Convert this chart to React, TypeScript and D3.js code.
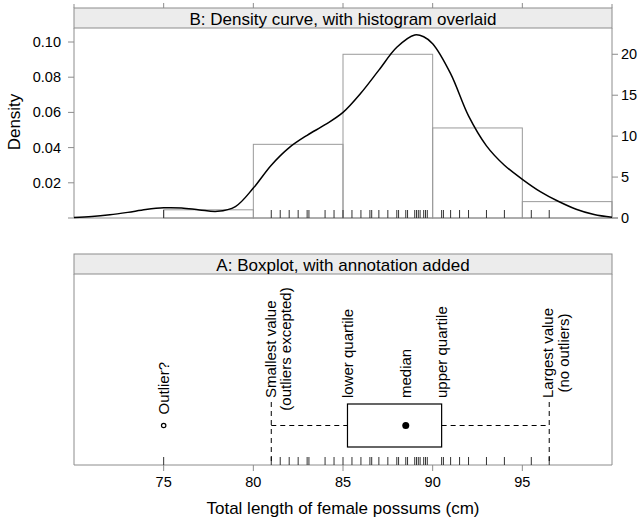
import React from "react";
import * as d3 from "d3";

// Total length (cm) of the female possums, one rug tick per listed value
const rugValues = [
  75, 81, 81.5, 82, 82.5, 83, 83.1, 84, 84.5, 85, 85.5, 86, 86.5, 86.6, 87,
  87.5, 88, 88.1, 88.5, 88.6, 89, 89.1, 89.2, 89.3, 89.5, 89.6, 89.7, 90.5,
  90.6, 91, 91.5, 92, 93, 94, 95.5, 96.5,
];

// Histogram: bin edges and counts (43 females)
const binEdges = [75, 80, 85, 90, 95, 100];
const binCounts = [1, 9, 20, 11, 2];
const nTotal = 43;

// Density curve (x in cm, density)
const densX = [
  70, 71, 72, 73, 74, 75, 76, 77, 78, 79, 80, 81, 82, 83, 84, 85, 86, 87, 88,
  89, 89.5, 90, 91, 92, 93, 94, 95, 96, 97, 98, 99, 100,
];
const densY = [
  0.0003, 0.0008, 0.0018, 0.0032, 0.0048, 0.0058, 0.0057, 0.0046, 0.0038,
  0.0065, 0.017, 0.03, 0.04, 0.047, 0.053, 0.06, 0.071, 0.084, 0.097, 0.104,
  0.103, 0.099, 0.082, 0.058, 0.041, 0.03, 0.022, 0.015, 0.0095, 0.005, 0.002,
  0.0004,
];

// Five-number summary and the outlier
const whiskerLow = 81;
const lowerQuartile = 85.25;
const medianValue = 88.5;
const upperQuartile = 90.5;
const whiskerHigh = 96.5;
const outlierValue = 75;

const xTicks = [75, 80, 85, 90, 95];
const densityTicks = [0.02, 0.04, 0.06, 0.08, 0.1];
const countTicks = [0, 5, 10, 15, 20];

const FONT = "'Liberation Sans', Arial, sans-serif";
const GRAY = "#8c8c8c";

export default function App() {
  const W = 642;
  const H = 521;
  const left = 74;
  const right = 612;

  const x = d3.scaleLinear().domain([70, 100]).range([left, right]);

  // top panel geometry
  const tStripTop = 8;
  const tStripBot = 28;
  const tBottom = 218;
  const yDens = d3.scaleLinear().domain([0, 0.1]).range([tBottom, 42]);
  const yCount = d3
    .scaleLinear()
    .domain([0, nTotal * 5 * 0.1])
    .range([tBottom, 42]);

  // bottom panel geometry
  const bStripTop = 254;
  const bStripBot = 274;
  const bBottom = 465;
  const boxTop = 404;
  const boxBot = 447;
  const boxMid = (boxTop + boxBot) / 2;

  const densLine = d3
    .line<number>()
    .x((_, i) => x(densX[i]))
    .y((d) => yDens(d))
    .curve(d3.curveCatmullRom.alpha(0.5));

  const tickFs = 14.5;
  const stripFs = 17;
  const labFs = 17;
  const annFs = 15;
  const labelBottom = 398;

  const rotText = (
    xx: number,
    yy: number,
    txt: string,
    anchor: "start" | "middle" = "start",
    key?: string
  ) => (
    <text
      key={key}
      transform={`translate(${xx},${yy}) rotate(-90)`}
      textAnchor={anchor}
      dominantBaseline="central"
      fontSize={annFs}
      fontFamily={FONT}
    >
      {txt}
    </text>
  );

  return (
    <svg
      width={W}
      height={H}
      style={{ position: "absolute", left: 0, top: 0 }}
      fontFamily={FONT}
    >
      <rect width={W} height={H} fill="#fff" />

      {/* ===== Panel B: density with histogram ===== */}
      {xTicks.map((t) => (
        <line
          key={"tt" + t}
          x1={x(t)}
          x2={x(t)}
          y1={tStripTop}
          y2={tStripTop - 5}
          stroke={GRAY}
        />
      ))}
      <rect
        x={left}
        y={tStripTop}
        width={right - left}
        height={tStripBot - tStripTop}
        fill="#ececec"
        stroke={GRAY}
      />
      <text
        x={(left + right) / 2}
        y={(tStripTop + tStripBot) / 2 + 1}
        textAnchor="middle"
        dominantBaseline="central"
        fontSize={stripFs}
      >
        B: Density curve, with histogram overlaid
      </text>
      <line x1={left} x2={left} y1={tStripTop - 4} y2={tStripTop} stroke={GRAY} />
      <line x1={right} x2={right} y1={tStripTop - 4} y2={tStripTop} stroke={GRAY} />

      {/* histogram bars */}
      {binCounts.map((c, i) => (
        <rect
          key={"bar" + i}
          x={x(binEdges[i])}
          y={yCount(c)}
          width={x(binEdges[i + 1]) - x(binEdges[i])}
          height={tBottom - yCount(c)}
          fill="none"
          stroke="#9a9a9a"
        />
      ))}

      {/* panel frame */}
      <line x1={left} x2={left} y1={tStripBot} y2={tBottom} stroke={GRAY} />
      <line x1={right} x2={right} y1={tStripBot} y2={tBottom} stroke={GRAY} />
      <line x1={left - 6} x2={right + 6} y1={tBottom} y2={tBottom} stroke={GRAY} />

      {/* rug */}
      {rugValues.map((v, i) => (
        <line
          key={"rt" + i}
          x1={x(v)}
          x2={x(v)}
          y1={tBottom}
          y2={tBottom - 8}
          stroke="#333"
        />
      ))}

      {/* density curve */}
      <path d={densLine(densY) ?? ""} fill="none" stroke="#000" strokeWidth={1.5} />

      {/* left axis */}
      {densityTicks.map((t) => (
        <g key={"dl" + t}>
          <line
            x1={left - 6}
            x2={left}
            y1={yDens(t)}
            y2={yDens(t)}
            stroke={GRAY}
          />
          <text
            x={left - 13}
            y={yDens(t)}
            textAnchor="end"
            dominantBaseline="central"
            fontSize={tickFs}
          >
            {d3.format(".2f")(t)}
          </text>
        </g>
      ))}
      <text
        transform={`translate(14,122) rotate(-90)`}
        textAnchor="middle"
        dominantBaseline="central"
        fontSize={labFs}
      >
        Density
      </text>

      {/* right axis (counts) */}
      {countTicks.map((t) => (
        <g key={"cr" + t}>
          <line
            x1={right}
            x2={right + 6}
            y1={yCount(t)}
            y2={yCount(t)}
            stroke={GRAY}
          />
          <text
            x={right + 9}
            y={yCount(t)}
            textAnchor="start"
            dominantBaseline="central"
            fontSize={tickFs}
          >
            {t}
          </text>
        </g>
      ))}

      {/* ===== Panel A: annotated boxplot ===== */}
      <rect
        x={left}
        y={bStripTop}
        width={right - left}
        height={bStripBot - bStripTop}
        fill="#ececec"
        stroke={GRAY}
      />
      <text
        x={(left + right) / 2}
        y={(bStripTop + bStripBot) / 2 + 1}
        textAnchor="middle"
        dominantBaseline="central"
        fontSize={stripFs}
      >
        A: Boxplot, with annotation added
      </text>
      <line x1={left} x2={left} y1={bStripBot} y2={bBottom} stroke={GRAY} />
      <line x1={right} x2={right} y1={bStripBot} y2={bBottom} stroke={GRAY} />
      <line x1={left} x2={right} y1={bBottom} y2={bBottom} stroke={GRAY} />

      {/* rug */}
      {rugValues.map((v, i) => (
        <line
          key={"rb" + i}
          x1={x(v)}
          x2={x(v)}
          y1={bBottom}
          y2={bBottom - 8}
          stroke="#333"
        />
      ))}

      {/* whiskers */}
      <line
        x1={x(whiskerLow)}
        x2={x(lowerQuartile)}
        y1={boxMid}
        y2={boxMid}
        stroke="#000"
        strokeDasharray="5,4"
      />
      <line
        x1={x(upperQuartile)}
        x2={x(whiskerHigh)}
        y1={boxMid}
        y2={boxMid}
        stroke="#000"
        strokeDasharray="5,4"
      />
      <line
        x1={x(whiskerLow)}
        x2={x(whiskerLow)}
        y1={labelBottom + 4}
        y2={bBottom - 3}
        stroke="#000"
        strokeDasharray="5,4"
      />
      <line
        x1={x(whiskerHigh)}
        x2={x(whiskerHigh)}
        y1={labelBottom + 4}
        y2={bBottom - 3}
        stroke="#000"
        strokeDasharray="5,4"
      />

      {/* box and median */}
      <rect
        x={x(lowerQuartile)}
        y={boxTop}
        width={x(upperQuartile) - x(lowerQuartile)}
        height={boxBot - boxTop}
        fill="#fff"
        stroke="#000"
        strokeWidth={1.2}
      />
      <circle cx={x(medianValue)} cy={boxMid} r={3.5} fill="#000" />

      {/* outlier */}
      <circle
        cx={x(outlierValue)}
        cy={boxMid}
        r={2.2}
        fill="none"
        stroke="#000"
        strokeWidth={1.2}
      />

      {/* annotations */}
      {rotText(x(outlierValue), boxMid - 11, "Outlier?", "start", "ao")}
      {rotText(x(whiskerLow) - 1, labelBottom, "Smallest value", "start", "as1")}
      {rotText(x(whiskerLow) + 14, labelBottom - 49, "(outliers excepted)", "middle", "as2")}
      {rotText(x(lowerQuartile), labelBottom, "lower quartile", "start", "al")}
      {rotText(x(medianValue), labelBottom, "median", "start", "am")}
      {rotText(x(upperQuartile), labelBottom, "upper quartile", "start", "au")}
      {rotText(x(whiskerHigh) - 2, labelBottom, "Largest value", "start", "ag1")}
      {rotText(x(whiskerHigh) + 14, labelBottom - 45, "(no outliers)", "middle", "ag2")}

      {/* bottom axis */}
      {xTicks.map((t) => (
        <g key={"bx" + t}>
          <line
            x1={x(t)}
            x2={x(t)}
            y1={bBottom}
            y2={bBottom + 6}
            stroke={GRAY}
          />
          <text
            x={x(t)}
            y={bBottom + 17}
            textAnchor="middle"
            dominantBaseline="central"
            fontSize={tickFs}
          >
            {t}
          </text>
        </g>
      ))}
      <text
        x={(left + right) / 2}
        y={508}
        textAnchor="middle"
        dominantBaseline="central"
        fontSize={labFs}
      >
        Total length of female possums (cm)
      </text>
    </svg>
  );
}
